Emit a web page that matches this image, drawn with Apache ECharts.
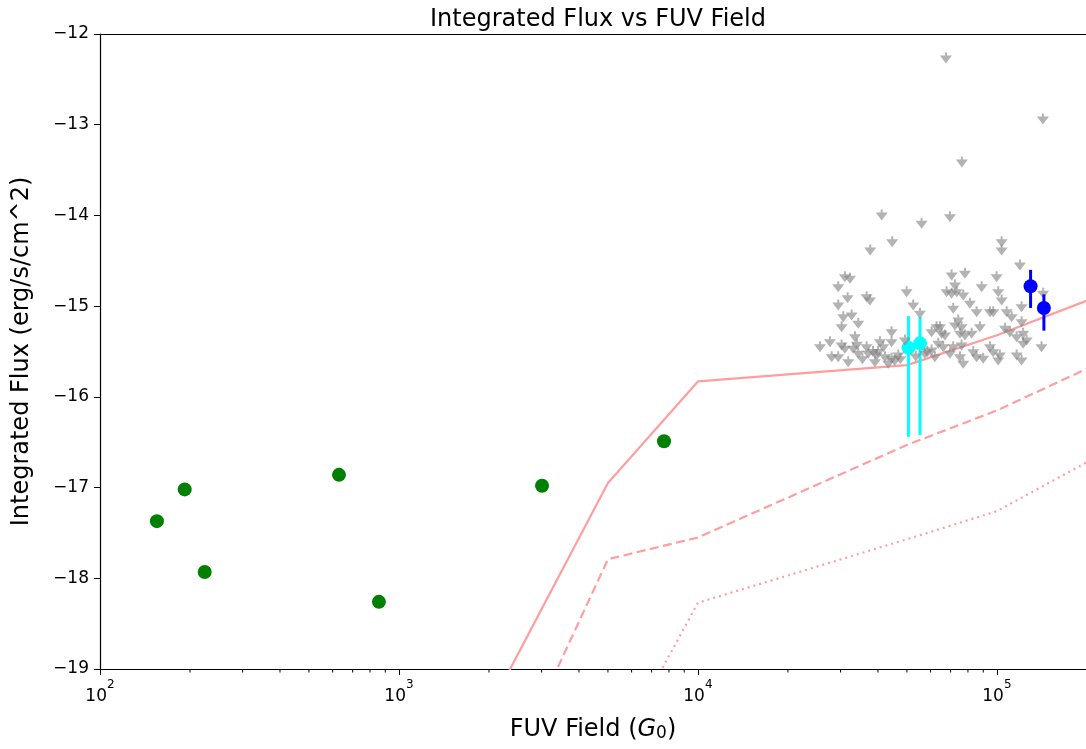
<!DOCTYPE html>
<html>
<head>
<meta charset="utf-8">
<script src="https://cdn.jsdelivr.net/npm/echarts@6/dist/echarts.min.js"></script>
<style>html,body{margin:0;padding:0;background:#fff}#c{width:1086px;height:749px}</style>
</head>
<body>
<div id="c"></div>
<script>
// ---- data ----
const xMin = 100, xMax = 198600;
const yTicks = [-19, -18, -17, -16, -15, -14, -13, -12];
const xMinorTicks = [200,300,400,500,600,700,800,900,2000,3000,4000,5000,6000,7000,8000,9000,20000,30000,40000,50000,60000,70000,80000,90000];

const greenX = [155, 192, 224, 630, 857, 3010, 7700];
const greenY = [-17.37, -17.02, -17.93, -16.86, -18.26, -16.98, -16.49];

const cyanX  = [50600, 55300];
const cyanY  = [-15.46, -15.41];
const cyanLo = [-16.44, -16.42];
const cyanHi = [-15.11, -15.12];

const blueX  = [129600, 143600];
const blueY  = [-14.78, -15.02];
const blueLo = [-15.02, -15.27];
const blueHi = [-14.60, -14.87];

const modelX      = [1000, 5000, 10000, 50000, 100000, 200000];
const modelSolid  = [-21.33, -16.95, -15.83, -15.65, -15.32, -14.94];
const modelDashed = [-22.76, -17.79, -17.55, -16.53, -16.15, -15.69];
const modelDotted = [-25.0, -20.09, -18.27, -17.57, -17.26, -16.72];

const grayX = [41170,56000,44650,37690,31010,32250,29460,36650,37610,31670,29460,49890,52490,55260,30620,32660,34370,30240,44440,60460,62850,65330,33510,25590,27640,30240,31010,33070,34370,28010,29460,31820,36650,37110,40620,41670,44440,49240,39600,42220,44440,46770,39080,43300,57430,60460,63640,66130,62030,
69630,103700,103700,119400,70560,78170,99770,88880,72370,67880,70560,73330,77150,101000,103700,81220,142800,120900,71420,85520,94760,97190,107800,112000,74250,72370,76180,87740,120900,66990,64480,75230,78170,82320,106400,110500,116400,122400,125700,122400,141000,71420,76180,94760,97190,102300,101000,83340,85520,90000,75230,77150,116400,120900,69630,
67510,142500,76350,
35500,38500,47500,53500,58500,45500,34000,40000];
const grayY = [-13.995,-14.087,-14.290,-14.381,-14.676,-14.693,-14.786,-14.896,-14.932,-14.907,-14.988,-14.841,-14.988,-15.079,-15.117,-15.098,-15.189,-15.227,-15.282,-15.282,-15.227,-15.300,-15.337,-15.447,-15.392,-15.429,-15.465,-15.465,-15.520,-15.557,-15.557,-15.613,-15.447,-15.520,-15.392,-15.447,-15.392,-15.373,-15.539,-15.557,-15.575,-15.539,-15.613,-15.630,-15.520,-15.484,-15.410,-15.447,-15.557,
-14.014,-14.290,-14.381,-14.547,-14.657,-14.638,-14.676,-14.786,-14.767,-14.841,-14.859,-14.841,-14.877,-14.841,-14.932,-14.969,-14.859,-15.006,-15.024,-15.061,-15.061,-15.061,-15.061,-15.117,-15.153,-15.208,-15.227,-15.227,-15.172,-15.318,-15.227,-15.300,-15.318,-15.300,-15.244,-15.282,-15.337,-15.300,-15.373,-15.410,-15.447,-15.447,-15.429,-15.447,-15.502,-15.539,-15.594,-15.502,-15.557,-15.575,-15.557,-15.630,-15.539,-15.594,-15.520,
-12.265,-12.937,-13.411,
-15.58,-15.50,-15.58,-15.55,-15.50,-15.60,-15.42,-15.50];

// ---- chart ----
const FONT = 'DejaVu Sans';
const zip = (a, b) => a.map((v, i) => [v, b[i]]);
const zip3 = (a, b, c) => a.map((v, i) => [v, b[i], c[i]]);

function errBar(color) {
  return function (params, api) {
    const x = api.value(0);
    const a = api.coord([x, api.value(1)]);
    const b = api.coord([x, api.value(2)]);
    return { type: 'line', shape: { x1: a[0], y1: a[1], x2: b[0], y2: b[1] },
             style: { stroke: color, lineWidth: 3 } };
  };
}

const arrowPath = 'path://M5,0 L7,0 L7,3 L12,3 L6,11 L0,3 L5,3 Z';
const pink = '#ff9e9e';

const chart = echarts.init(document.getElementById('c'), null, { renderer: 'canvas' });
chart.setOption({
  animation: false,
  backgroundColor: '#fff',
  textStyle: { fontFamily: FONT },
  title: {
    text: 'Integrated Flux vs FUV Field',
    left: 593, top: 3, textAlign: 'center',
    textStyle: { fontFamily: FONT, fontSize: 24, fontWeight: 'normal', color: '#000' }
  },
  grid: { left: 100, right: 0, top: 34, bottom: 80 },
  xAxis: [{
    type: 'log', logBase: 10, min: xMin, max: xMax,
    position: 'bottom',
    name: 'FUV Field ({i|G}{sub|0})',
    nameLocation: 'middle', nameGap: 48,
    nameTextStyle: { fontFamily: FONT, fontSize: 24, color: '#000',
      rich: { i: { fontFamily: FONT, fontSize: 24, fontStyle: 'italic', color: '#000' },
              sub: { fontFamily: FONT, fontSize: 17, color: '#000', verticalAlign: 'bottom', padding: [8, 0, 0, 0] } } },
    axisLine: { show: true, onZero: false, lineStyle: { color: '#000', width: 1.2 } },
    axisTick: { show: true, length: 6, lineStyle: { color: '#000', width: 1 } },
    axisLabel: {
      margin: 10, showMaxLabel: false,
      formatter: function (v) {
        const l = Math.log10(v), e = Math.round(l);
        if (Math.abs(l - e) > 1e-6) return '';
        return '{b|10}{s|' + e + '}';
      },
      rich: {
        b: { fontFamily: FONT, fontSize: 17, color: '#000', verticalAlign: 'bottom', lineHeight: 26 },
        s: { fontFamily: FONT, fontSize: 12, color: '#000', verticalAlign: 'top', lineHeight: 14 }
      }
    },
    splitLine: { show: false }
  }, {
    type: 'log', logBase: 10, min: xMin, max: xMax, position: 'top',
    axisLine: { show: true, onZero: false, lineStyle: { color: '#000', width: 1.2 } },
    axisTick: { show: false }, axisLabel: { show: false }, splitLine: { show: false }
  }],
  yAxis: {
    type: 'value', min: -19, max: -12, interval: 1,
    name: 'Integrated Flux (erg/s/cm^2)',
    nameLocation: 'middle', nameGap: 66, nameRotate: 90,
    nameTextStyle: { fontFamily: FONT, fontSize: 24, color: '#000' },
    axisLine: { show: true, onZero: false, lineStyle: { color: '#000', width: 1.2 } },
    axisTick: { show: true, length: 6, lineStyle: { color: '#000', width: 1 } },
    axisLabel: { margin: 11, fontFamily: FONT, fontSize: 17, color: '#000',
      formatter: v => String(v).replace('-', '\u2212') },
    splitLine: { show: false }
  },
  series: [
    { type: 'custom', name: 'minor', silent: true, clip: false, z: 1,
      data: xMinorTicks.map(v => [v, -19]),
      renderItem: function (params, api) {
        const p = api.coord([api.value(0), api.value(1)]);
        return { type: 'line', shape: { x1: p[0], y1: p[1], x2: p[0], y2: p[1] + 3.5 },
                 style: { stroke: '#000', lineWidth: 1 } };
      } },
    { type: 'line', data: zip(modelX, modelSolid), showSymbol: false, z: 2,
      lineStyle: { color: pink, width: 2.2 } },
    { type: 'line', data: zip(modelX, modelDashed), showSymbol: false, z: 2,
      lineStyle: { color: pink, width: 2.2, type: [9, 4.5] } },
    { type: 'line', data: zip(modelX, modelDotted), showSymbol: false, z: 2,
      lineStyle: { color: pink, width: 2.2, type: [2, 4] } },
    { type: 'scatter', data: zip(greenX, greenY), symbol: 'circle', symbolSize: 14, z: 3,
      itemStyle: { color: '#008000', opacity: 1 } },
    { type: 'custom', data: zip3(cyanX, cyanLo, cyanHi), renderItem: errBar('#00ffff'), z: 4 },
    { type: 'scatter', data: zip(cyanX, cyanY), symbol: 'circle', symbolSize: 14, z: 4,
      itemStyle: { color: '#00ffff', opacity: 1 } },
    { type: 'scatter', data: zip(grayX, grayY), symbol: arrowPath, symbolSize: [12, 11], z: 5,
      itemStyle: { color: '#808080', opacity: 0.6 } },
    { type: 'custom', data: zip3(blueX, blueLo, blueHi), renderItem: errBar('#0000ff'), z: 6 },
    { type: 'scatter', data: zip(blueX, blueY), symbol: 'circle', symbolSize: 14, z: 6,
      itemStyle: { color: '#0000ff', opacity: 1 } }
  ]
});
</script>
</body>
</html>
